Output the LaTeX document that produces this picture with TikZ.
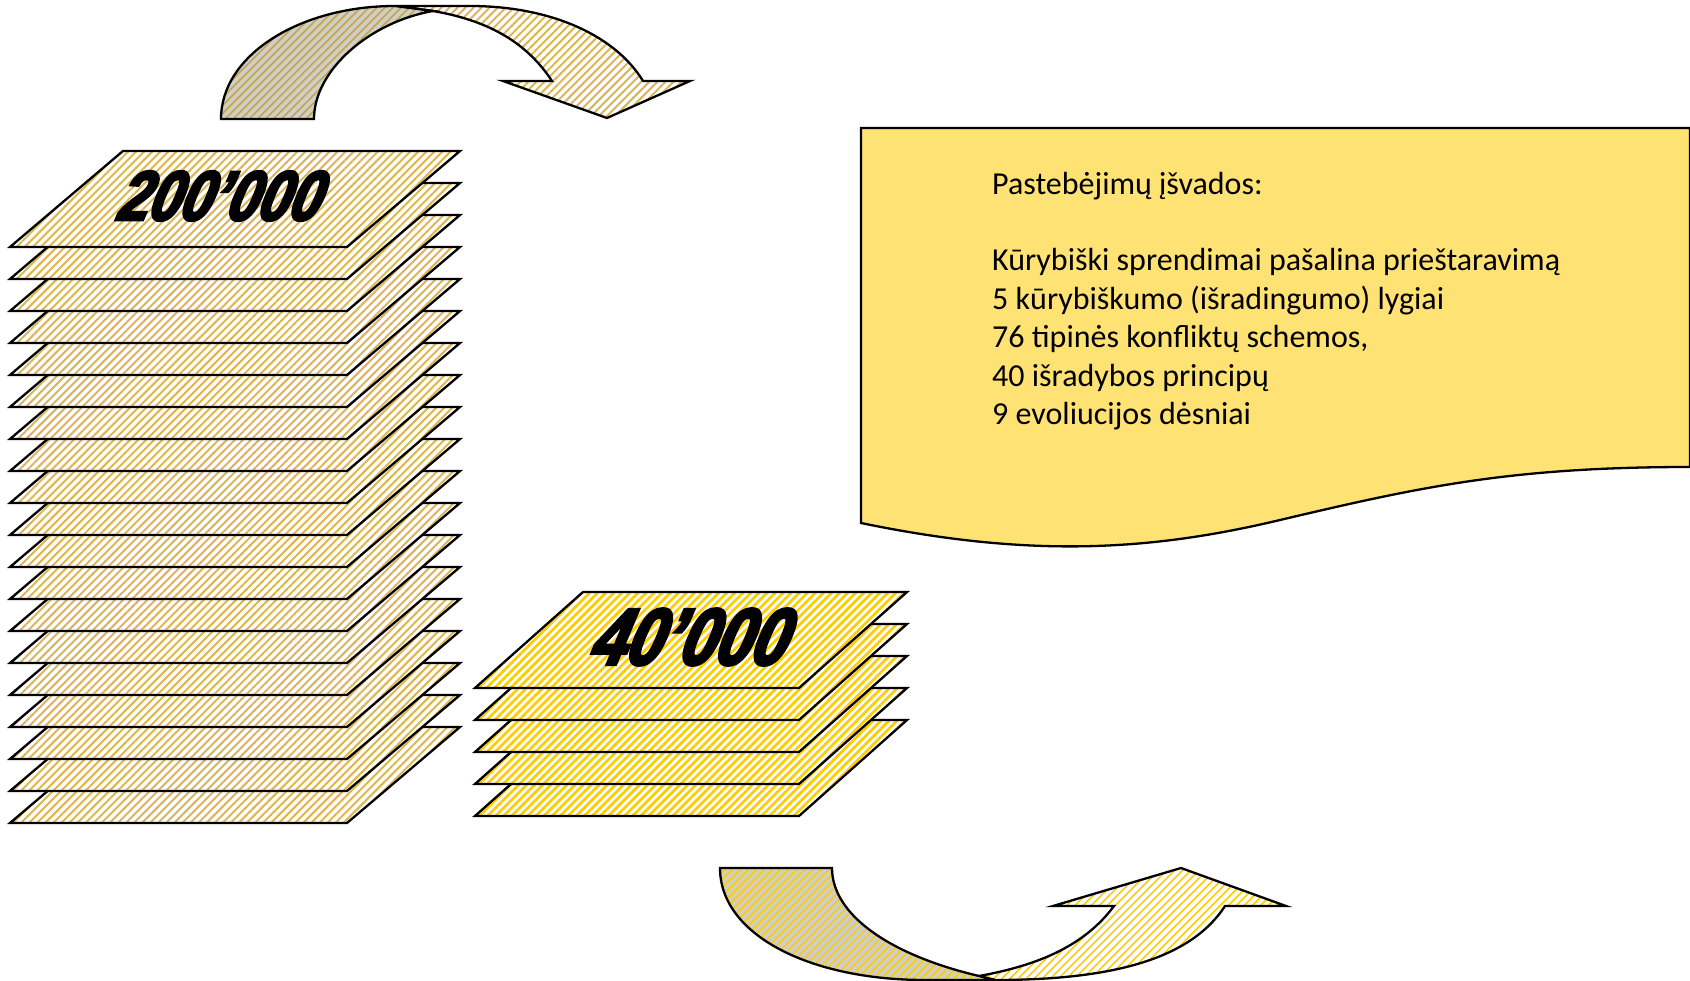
\documentclass[tikz,border=0pt]{standalone}
\usepackage{fontspec}
\setmainfont{Carlito}
\newfontfamily\wordart[FakeBold=4,FakeSlant=0.42,FakeStretch=0.8]{Liberation Sans Bold}
\usetikzlibrary{patterns.meta}
\definecolor{tanstripe}{HTML}{DDB552}
\definecolor{goldstripe}{HTML}{FFCC00}
\definecolor{greybg}{HTML}{CFCFC8}
\definecolor{notebg}{HTML}{FFE274}
\tikzset{
  outline/.style={draw=black,line width=2.3pt,line join=miter,miter limit=10},
  tansheet/.style={outline,preaction={fill=white},pattern={Lines[angle=45,distance=5.7pt,line width=2pt]},pattern color=tanstripe},
  goldsheet/.style={outline,preaction={fill=white},pattern={Lines[angle=45,distance=5.7pt,line width=2.7pt]},pattern color=goldstripe},
  tangrey/.style={outline,preaction={fill=greybg},pattern={Lines[angle=45,distance=5.7pt,line width=1.6pt]},pattern color=tanstripe!90!black},
  goldgrey/.style={outline,preaction={fill=greybg},pattern={Lines[angle=45,distance=5.7pt,line width=1.6pt]},pattern color=goldstripe},
  goldlight/.style={outline,preaction={fill=white},pattern={Lines[angle=45,distance=5.7pt,line width=1.6pt]},pattern color=goldstripe},
  numeral/.style={inner sep=0pt,text=black},
}
\begin{document}
\begin{tikzpicture}[x=1pt,y=-1pt]
\useasboundingbox (0,0) rectangle (1690,981);
% large stack
\foreach \k in {18,17,...,0}{
  \path[tansheet] (123,151+32*\k) -- (460,151+32*\k) -- (347,247+32*\k) -- (10,247+32*\k) -- cycle;
}
\node[numeral,font={\wordart\fontsize{70}{70}\selectfont}] (big) at (215,196) {200’000};
% small stack
\foreach \k in {4,3,...,0}{
  \path[goldsheet] (583,592+32*\k) -- (907,592+32*\k) -- (799,688+32*\k) -- (475,688+32*\k) -- cycle;
}
\node[numeral,font={\wordart\fontsize{80}{80}\selectfont}] (small) at (684,637) {40’000};
% top arrow
\path[tansheet] (395,6) -- (470,6) .. controls (550,6) and (615,35) .. (643,81) -- (690,81) -- (607,118) -- (503,81) -- (552,81) .. controls (525,40) and (485,20) .. (433,11) -- cycle;
\path[tangrey] (221,119) .. controls (221,55) and (300,6) .. (395,6) -- (433,11) .. controls (370,22) and (314,70) .. (314,119) -- cycle;
% bottom arrow
\path[goldlight] (995,980) .. controls (1110,980) and (1190,960) .. (1225,906) -- (1286,906) -- (1181,868) -- (1053,906) -- (1114,906) .. controls (1085,945) and (1040,965) .. (979,976) -- cycle;
\path[goldgrey] (720,868) -- (832,868) .. controls (832,915) and (890,955) .. (979,976) -- (995,980) -- (925,980) .. controls (810,980) and (720,935) .. (720,868) -- cycle;
% note
\path[outline,fill=notebg] (861,128) -- (1690,128) -- (1690,467) .. controls (1510,467) and (1420,487) .. (1280,520) .. controls (1150,551) and (1030,558) .. (861,523) -- cycle;
\node[anchor=base west,inner sep=0pt,font=\fontsize{32}{38.5}\selectfont] (t0) at (992,195) {Pastebėjimų įšvados:};
\node[anchor=base west,inner sep=0pt,font=\fontsize{32}{38.5}\selectfont] (t1) at (992,271) {Kūrybiški sprendimai pašalina prieštaravimą};
\node[anchor=base west,inner sep=0pt,font=\fontsize{32}{38.5}\selectfont] (t2) at (992,309.5) {5 kūrybiškumo (išradingumo) lygiai};
\node[anchor=base west,inner sep=0pt,font=\fontsize{32}{38.5}\selectfont] (t3) at (992,348) {76 tipinės konfliktų schemos,};
\node[anchor=base west,inner sep=0pt,font=\fontsize{32}{38.5}\selectfont] (t4) at (992,386.5) {40 išradybos principų};
\node[anchor=base west,inner sep=0pt,font=\fontsize{32}{38.5}\selectfont] (t5) at (992,425) {9 evoliucijos dėsniai};
\end{tikzpicture}
\end{document}
